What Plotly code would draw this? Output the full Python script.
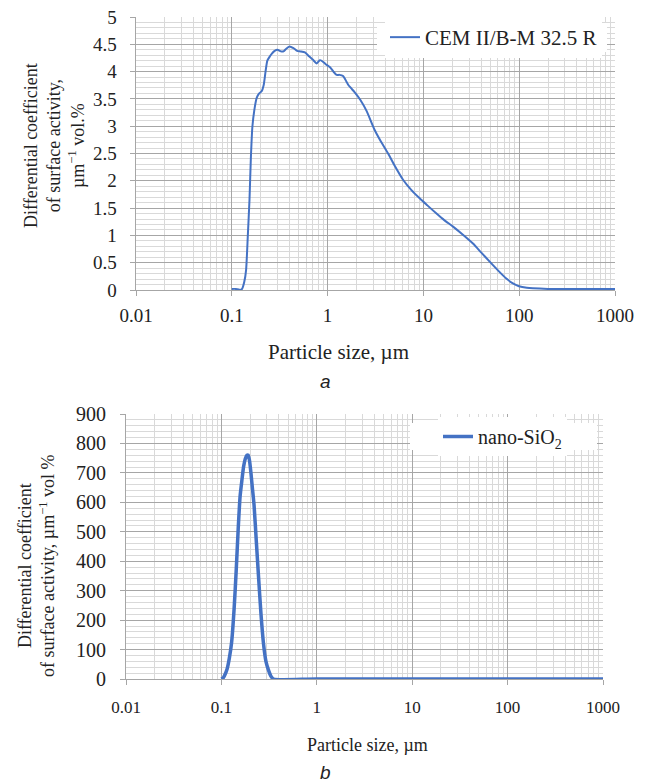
import plotly.graph_objects as go

# ---------------- data ----------------
cem_x = [0.100, 0.110, 0.118, 0.122, 0.128, 0.135, 0.141, 0.147, 0.153, 0.158,
         0.164, 0.172, 0.182, 0.193, 0.205, 0.215, 0.225, 0.235, 0.250, 0.262,
         0.280, 0.300, 0.325, 0.347, 0.370, 0.400, 0.440, 0.480, 0.520, 0.580,
         0.640, 0.700, 0.770, 0.830, 0.880, 0.950, 1.06, 1.15, 1.24, 1.33,
         1.45, 1.57, 1.64, 1.75, 1.92, 2.2, 2.55, 3.1, 3.6, 4.28,
         5.0, 6.13, 7.5, 9.14, 11.0, 13.7, 16.5, 20.4, 25.5, 32.9,
         40.0, 49.2, 60.0, 73.4, 86.0, 99.4, 120.0, 139.0, 200.0, 1000.0]
cem_y = [0.02, 0.02, 0.01, 0.00, 0.02, 0.15, 0.37, 1.00, 1.65, 2.40,
         2.99, 3.30, 3.52, 3.60, 3.64, 3.75, 4.00, 4.20, 4.28, 4.33,
         4.38, 4.40, 4.37, 4.37, 4.42, 4.46, 4.43, 4.38, 4.37, 4.35,
         4.28, 4.22, 4.15, 4.21, 4.19, 4.14, 4.08, 4.00, 3.94, 3.94,
         3.92, 3.82, 3.76, 3.70, 3.62, 3.48, 3.28, 2.93, 2.72, 2.50,
         2.28, 2.02, 1.83, 1.68, 1.55, 1.40, 1.28, 1.16, 1.02, 0.85,
         0.69, 0.52, 0.36, 0.21, 0.12, 0.07, 0.04, 0.03, 0.02, 0.02]

sio2_x = [0.100, 0.105, 0.110, 0.115, 0.121, 0.128, 0.136, 0.143, 0.150, 0.157,
          0.164, 0.171, 0.178, 0.185, 0.191, 0.197, 0.204, 0.211, 0.220, 0.232,
          0.245, 0.260, 0.276, 0.293, 0.311, 0.330, 0.351, 1.0, 1000.0]
sio2_y = [0, 5, 18, 35, 70, 125, 240, 370, 510, 620,
          675, 722, 748, 760, 760, 742, 700, 650, 590, 470,
          348, 220, 121, 60, 31, 10, 0, 0, 0]

x_tickvals = [0.01, 0.1, 1, 10, 100, 1000]
x_ticktext = ["0.01", "0.1", "1", "10", "100", "1000"]
top_yticks = [0, 0.5, 1, 1.5, 2, 2.5, 3, 3.5, 4, 4.5, 5]
top_yticktext = ["0", "0.5", "1", "1.5", "2", "2.5", "3", "3.5", "4", "4.5", "5"]
bot_yticks = [0, 100, 200, 300, 400, 500, 600, 700, 800, 900]

# ---------------- styling ----------------
W, H = 650, 784
SERIF = "Liberation Serif"
SANS = "Liberation Sans"
BLUE = "#4472C4"
MAJ = "#a6a6a6"
MIN = "#d9d9d9"
TXT = "#222222"
PAD = "\u00a0\u00a0"   # spacing between y tick labels and the axis

def px_x(p):
    return p / W

def px_y(p):
    return 1 - p / H

fig = go.Figure()
fig.add_trace(go.Scatter(x=cem_x, y=cem_y, mode="lines", name="CEM II/B-M 32.5 R",
                         line=dict(color=BLUE, width=2, shape="spline", smoothing=0.6),
                         xaxis="x", yaxis="y", legend="legend"))
fig.add_trace(go.Scatter(x=sio2_x, y=sio2_y, mode="lines", name="nano-SiO<sub>2</sub>",
                         line=dict(color=BLUE, width=3.5, shape="spline", smoothing=0.6),
                         xaxis="x2", yaxis="y2", legend="legend2"))

def xax(domain, fs, standoff, anchor):
    return dict(type="log", range=[-2, 3], domain=domain, anchor=anchor,
                tickvals=x_tickvals, ticktext=x_ticktext,
                tickfont=dict(family=SERIF, size=fs, color=TXT),
                showgrid=True, gridcolor=MAJ, gridwidth=1,
                minor=dict(showgrid=True, gridcolor=MIN, gridwidth=1, dtick="D1", ticklen=0),
                showline=True, linecolor=MAJ, linewidth=1,
                ticks="outside", ticklen=5, tickcolor=MAJ,
                ticklabelstandoff=standoff,
                zeroline=False, fixedrange=True, automargin=False)

def yax(domain, rng, vals, text, fs, minor_dtick, anchor):
    return dict(range=rng, domain=domain, anchor=anchor, tickvals=vals,
                ticktext=[t + PAD for t in text],
                tickfont=dict(family=SERIF, size=fs, color=TXT),
                showgrid=True, gridcolor=MAJ, gridwidth=1,
                minor=dict(showgrid=True, gridcolor=MIN, gridwidth=1, dtick=minor_dtick, ticklen=0),
                showline=True, linecolor=MAJ, linewidth=1,
                ticks="outside", ticklen=5, tickcolor=MAJ,
                zeroline=False, fixedrange=True, automargin=False)

top_xd = [px_x(136), px_x(615)]
top_yd = [px_y(290), px_y(17)]
bot_xd = [px_x(126), px_x(603)]
bot_yd = [px_y(679), px_y(414)]

fig.update_layout(
    template="none",
    width=W, height=H, margin=dict(l=0, r=0, t=0, b=0, autoexpand=False),
    paper_bgcolor="white", plot_bgcolor="white",
    font=dict(family=SERIF, color=TXT),
    xaxis=xax(top_xd, 19, 3, "y"),
    yaxis=yax(top_yd, [0, 5], top_yticks, top_yticktext, 19, 0.1, "x"),
    xaxis2=xax(bot_xd, 17, 8, "y2"),
    yaxis2=yax(bot_yd, [0, 900], bot_yticks, [str(v) for v in bot_yticks], 20, 20, "x2"),
    legend=dict(x=px_x(385), y=px_y(37.5), xanchor="left", yanchor="middle",
                bgcolor="white", borderwidth=0,
                font=dict(family=SERIF, size=21, color=TXT),
                itemwidth=30, tracegroupgap=0),
    legend2=dict(x=px_x(438), y=px_y(436.5), xanchor="left", yanchor="middle",
                 bgcolor="white", borderwidth=0,
                 font=dict(family=SERIF, size=20, color=TXT),
                 itemwidth=30, tracegroupgap=0),
    showlegend=True,
    shapes=[
        dict(type="rect", xref="paper", yref="paper", layer="above",
             x0=px_x(377), x1=px_x(607), y0=px_y(52), y1=px_y(23),
             fillcolor="white", line=dict(width=0)),
        dict(type="rect", xref="paper", yref="paper", layer="above",
             x0=px_x(410), x1=px_x(597), y0=px_y(450), y1=px_y(423),
             fillcolor="white", line=dict(width=0)),
    ],
)

ann = [
    dict(text="Differential coefficient<br>of surface activity,<br>µm<sup>−1</sup> vol.%",
         x=px_x(54), y=px_y(146), textangle=-90, font=dict(family=SERIF, size=18, color=TXT)),
    dict(text="Differential coefficient<br>of surface activity, µm<sup>−1</sup> vol %",
         x=px_x(36), y=px_y(566), textangle=-90, font=dict(family=SERIF, size=18, color=TXT)),
    dict(text="Particle size, µm", x=px_x(338), y=px_y(352),
         font=dict(family=SERIF, size=21, color=TXT)),
    dict(text="<i>a</i>", x=px_x(326), y=px_y(381),
         font=dict(family=SANS, size=19, color=TXT)),
    dict(text="Particle size, µm", x=px_x(367), y=px_y(745),
         font=dict(family=SERIF, size=18, color=TXT)),
    dict(text="<i>b</i>", x=px_x(326), y=px_y(772),
         font=dict(family=SANS, size=19, color=TXT)),
]
for a in ann:
    a.update(xref="paper", yref="paper", showarrow=False, xanchor="center", yanchor="middle")
fig.update_layout(annotations=ann)

fig.write_html("out.html")
